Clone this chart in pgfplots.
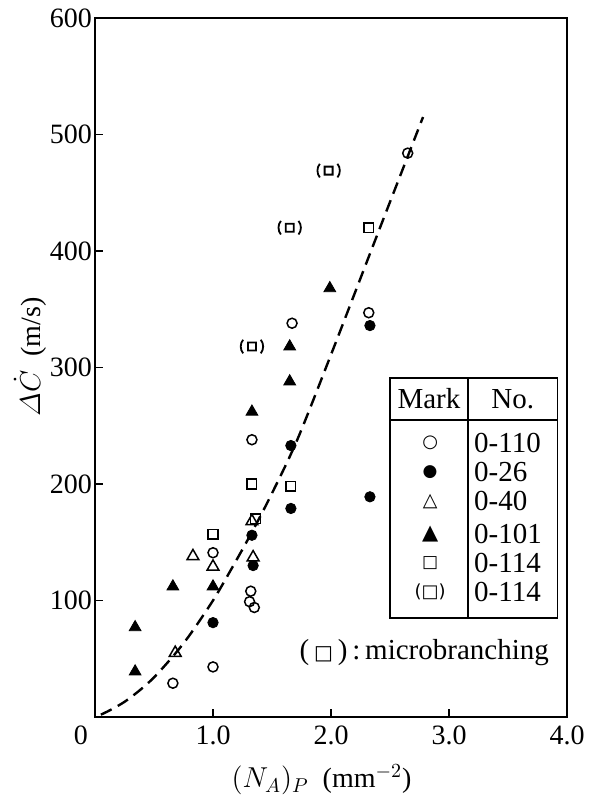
\documentclass[border=0pt]{standalone}
\usepackage{fontspec}
\setmainfont{Liberation Serif}
\newfontfamily\symfont{DejaVu Sans}
\usepackage{pgfplots}
\pgfplotsset{compat=1.18}

\pgfdeclareplotmark{psquare}{%
  \pgfpathrectangle{\pgfpoint{-\pgfplotmarksize}{-\pgfplotmarksize}}{\pgfpoint{2\pgfplotmarksize}{2\pgfplotmarksize}}%
  \pgfpathmoveto{\pgfpoint{-2.2\pgfplotmarksize}{1.7\pgfplotmarksize}}%
  \pgfpathcurveto{\pgfpoint{-3.0\pgfplotmarksize}{0.8\pgfplotmarksize}}{\pgfpoint{-3.0\pgfplotmarksize}{-0.8\pgfplotmarksize}}{\pgfpoint{-2.2\pgfplotmarksize}{-1.7\pgfplotmarksize}}%
  \pgfpathmoveto{\pgfpoint{2.2\pgfplotmarksize}{1.7\pgfplotmarksize}}%
  \pgfpathcurveto{\pgfpoint{3.0\pgfplotmarksize}{0.8\pgfplotmarksize}}{\pgfpoint{3.0\pgfplotmarksize}{-0.8\pgfplotmarksize}}{\pgfpoint{2.2\pgfplotmarksize}{-1.7\pgfplotmarksize}}%
  \pgfusepathqstroke
}

\begin{document}
\begin{tikzpicture}
\begin{axis}[
  name=ax,
  scale only axis,
  width=236pt, height=349.5pt,
  xmin=0, xmax=4, ymin=0, ymax=600,
  xtick={0,1,2,3,4},
  xticklabels={\makebox[0pt][r]{0\hspace{3.5pt}},1.0,2.0,3.0,4.0},
  ytick={100,200,300,400,500,600},
  xtick pos=lower, ytick pos=left,
  tick align=inside,
  major tick length=4pt,
  tick style={black, line width=0.8pt},
  axis line style={line width=1pt},
  /pgf/number format/assume math mode=true,
  tick label style={font=\fontsize{14}{16}\selectfont},
  yticklabel style={xshift=2pt},
  xticklabel style={yshift=-1pt},
  xlabel={$(N_{A})_{P}$\ \ (mm$^{-2}$)},
  ylabel={$\mathnormal{\Delta}\dot{C}$\ \ (m/s)},
  label style={font=\fontsize{14}{16}\selectfont},
  xlabel style={at={(axis description cs:0.48,-0.09)}, anchor=center},
  ylabel style={at={(axis description cs:-0.138,0.515)}, anchor=center},
  clip=false,
]
% dashed fit curve
\addplot[black, smooth, line width=1.2pt, dash pattern=on 6pt off 3.5pt] coordinates {
 (0.05,2) (0.13,6) (0.25,13) (0.38,23) (0.5,34) (0.66,52) (0.8,70) (1.0,100)
 (1.15,126) (1.31,155) (1.48,188) (1.71,237) (2.0,311) (2.4,416) (2.78,515)};
% 0-110 open circles
\addplot[only marks, mark=o, mark size=2.5pt, black, line width=0.75pt] coordinates {
 (0.66,29) (1.0,141) (1.0,43) (1.33,238) (1.32,108) (1.31,99) (1.35,94)
 (1.67,338) (2.32,347) (2.65,484)};
% 0-26 filled circles
\addplot[only marks, mark=*, mark size=2.6pt, black] coordinates {
 (1.0,81) (1.33,156) (1.34,130) (1.66,233) (1.66,179) (2.33,336) (2.33,189)};
% 0-40 open triangles
\addplot[only marks, mark=triangle, mark size=3.4pt, black, line width=0.75pt] coordinates {
 (0.68,55) (0.83,138) (1.0,129) (1.33,168) (1.34,137)};
% 0-101 filled triangles
\addplot[only marks, mark=triangle*, mark size=3.4pt, black] coordinates {
 (0.34,77) (0.34,39) (0.66,112) (1.0,112) (1.33,262) (1.65,288) (1.65,318) (1.99,368)};
% 0-114 open squares
\addplot[only marks, mark=square, mark size=2.4pt, black, line width=0.75pt] coordinates {
 (1.0,157) (1.33,200) (1.36,170) (1.66,198) (2.32,420)};
% 0-114 microbranching
\addplot[only marks, mark=psquare, mark size=2pt, black, line width=0.9pt] coordinates {
 (1.33,318) (1.65,420) (1.98,469)};

% legend table
\draw[line width=0.7pt] (axis cs:2.5,85) rectangle (axis cs:3.92,291);
\draw[line width=0.7pt] (axis cs:3.16,85) -- (axis cs:3.16,291);
\draw[line width=0.7pt] (axis cs:2.5,255) -- (axis cs:3.92,255);
\begin{scope}[every node/.style={font=\fontsize{14.5}{16}\selectfont, inner sep=0pt}]
\node at (axis cs:2.83,273) {Mark};
\node at (axis cs:3.54,273) {No.};
\node at (axis cs:2.84,235) {\symfont\fontsize{9}{9}\selectfont ○};
\node at (axis cs:2.84,210) {\symfont\fontsize{8.5}{9}\selectfont ●};
\node at (axis cs:2.84,185) {\symfont\fontsize{9.5}{9}\selectfont △};
\node at (axis cs:2.84,157) {\symfont\fontsize{10.5}{10}\selectfont ▲};
\node at (axis cs:2.84,132) {\symfont\fontsize{8.5}{9}\selectfont □};
\node at (axis cs:2.84,107) {\symfont\fontsize{9}{9}\selectfont (□)};
\node[anchor=west] at (axis cs:3.21,235) {0-110};
\node[anchor=west] at (axis cs:3.21,210) {0-26};
\node[anchor=west] at (axis cs:3.21,185) {0-40};
\node[anchor=west] at (axis cs:3.21,157) {0-101};
\node[anchor=west] at (axis cs:3.21,132) {0-114};
\node[anchor=west] at (axis cs:3.21,107) {0-114};
\node at (axis cs:2.79,55) {(\,{\symfont\fontsize{10}{10}\selectfont □}\,)\,:\,microbranching};
\end{scope}
\end{axis}
\pgfresetboundingbox
\path[use as bounding box] ([shift={(-47.5pt,-39.5pt)}]ax.south west) rectangle ([shift={(12pt,9pt)}]ax.north east);
\end{tikzpicture}
\end{document}
